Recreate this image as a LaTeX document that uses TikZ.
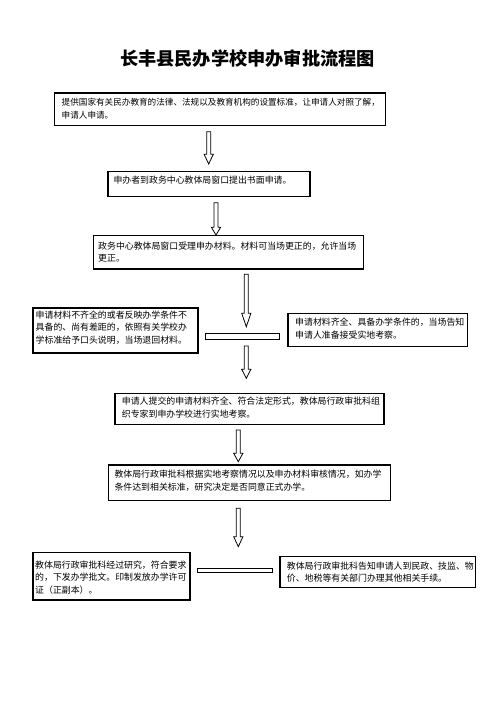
\documentclass[tikz,border=0pt]{standalone}
\usepackage{fontspec}
\setmainfont{Noto Sans CJK SC}
\usetikzlibrary{calc}
\tikzset{
  flowbox/.style={draw=black, line width=1.2pt, inner sep=0pt, anchor=north west, fill=white},
  flowtext/.style={anchor=base west, inner sep=0pt, text width=#1, align=left,
    font=\fontsize{8.9}{12.5}\selectfont},
  flowbar/.style={draw=black, line width=1pt, inner sep=0pt, anchor=north west},
  blockarrow/.style={draw=black, line width=0.8pt, fill=white, line join=miter},
  titletext/.style={font=\fontsize{18.2}{20}\selectfont\bfseries, inner sep=0pt}
}
\newcommand\bigdownarrow[4]{%
  \path[blockarrow] ({#1-2},{#2}) -- ({#1+2},{#2}) -- ({#1+2},{#3}) -- ({#1+4.6},{#3})
    -- ({#1},{#4}) -- ({#1-4.6},{#3}) -- ({#1-2},{#3}) -- cycle;}
\begin{document}
\begin{tikzpicture}[x=1pt,y=-1pt]
\useasboundingbox[fill=white] (0,0) rectangle (496,702);

\node[titletext] (title) at (247.5,59) {长丰县民办学校申办审批流程图};

% boxes
\node[flowbox, minimum width=331pt, minimum height=32.4pt] (b1) at (54,92.3) {};
\node[flowtext=325pt, font=\fontsize{8.6}{12.5}\selectfont] (t1) at (61.5,105.8) {提供国家有关民办教育的法律、法规以及教育机构的设置标准，让申请人对照了解，\\申请人申请。};

\node[flowbox, minimum width=202pt, minimum height=25pt] (b2) at (107.3,171) {};
\node[flowtext=195pt] (t2) at (113.3,183.3) {申办者到政务中心教体局窗口提出书面申请。};

\node[flowbox, minimum width=270pt, minimum height=33.3pt] (b3) at (92.7,235) {};
\node[flowtext=262pt] (t3) at (98,249) {政务中心教体局窗口受理申办材料。材料可当场更正的，允许当场\\更正。};

\node[flowbox, minimum width=165pt, minimum height=45pt] (b4) at (32.3,307.3) {};
\node[flowtext=160pt] (t4) at (35.5,318.3) {申请材料不齐全的或者反映办学条件不\\具备的、尚有差距的，依照有关学校办\\学标准给予口头说明，当场退回材料。};

\node[flowbar, minimum width=74pt, minimum height=6pt] (bar1) at (205.3,333.3) {};

\node[flowbox, minimum width=179.7pt, minimum height=33.3pt] (b5) at (287.3,312.7) {};
\node[flowtext=175pt] (t5) at (295,325.6) {申请材料齐全、具备办学条件的，当场告知\\申请人准备接受实地考察。};

\node[flowbox, minimum width=269pt, minimum height=31pt] (b6) at (114.3,392.5) {};
\node[flowtext=262pt] (t6) at (121.7,404.5) {申请人提交的申请材料齐全、符合法定形式，教体局行政审批科组\\织专家到申办学校进行实地考察。};

\node[flowbox, minimum width=282.3pt, minimum height=35.7pt] (b7) at (107.7,464.3) {};
\node[flowtext=275pt] (t7) at (114.3,477.6) {教体局行政审批科根据实地考察情况以及申办材料审核情况，如办学\\条件达到相关标准，研究决定是否同意正式办学。};

\node[flowbox, minimum width=157pt, minimum height=47.6pt] (b8) at (32.3,551.7) {};
\node[flowtext=155pt] (t8) at (35,568.3) {教体局行政审批科经过研究，符合要求\\的，下发办学批文。印制发放办学许可\\证（正副本）。};

\node[flowbar, minimum width=75pt, minimum height=4.6pt] (bar2) at (197.3,567.7) {};

\node[flowbox, minimum width=195.7pt, minimum height=30.7pt] (b9) at (279.3,556) {};
\node[flowtext=192pt] (t9) at (286.7,569.3) {教体局行政审批科告知申请人到民政、技监、物\\价、地税等有关部门办理其他相关手续。};

% block arrows
\bigdownarrow{208.7}{131.7}{154.3}{164}
\bigdownarrow{216}{202.7}{227.3}{235}
\bigdownarrow{246.3}{274.3}{313.3}{326.7}
\bigdownarrow{246.3}{346}{369.3}{378.3}
\bigdownarrow{238.3}{430}{453.3}{461.7}
\bigdownarrow{238.3}{508.3}{536.7}{546.7}
\end{tikzpicture}
\end{document}
